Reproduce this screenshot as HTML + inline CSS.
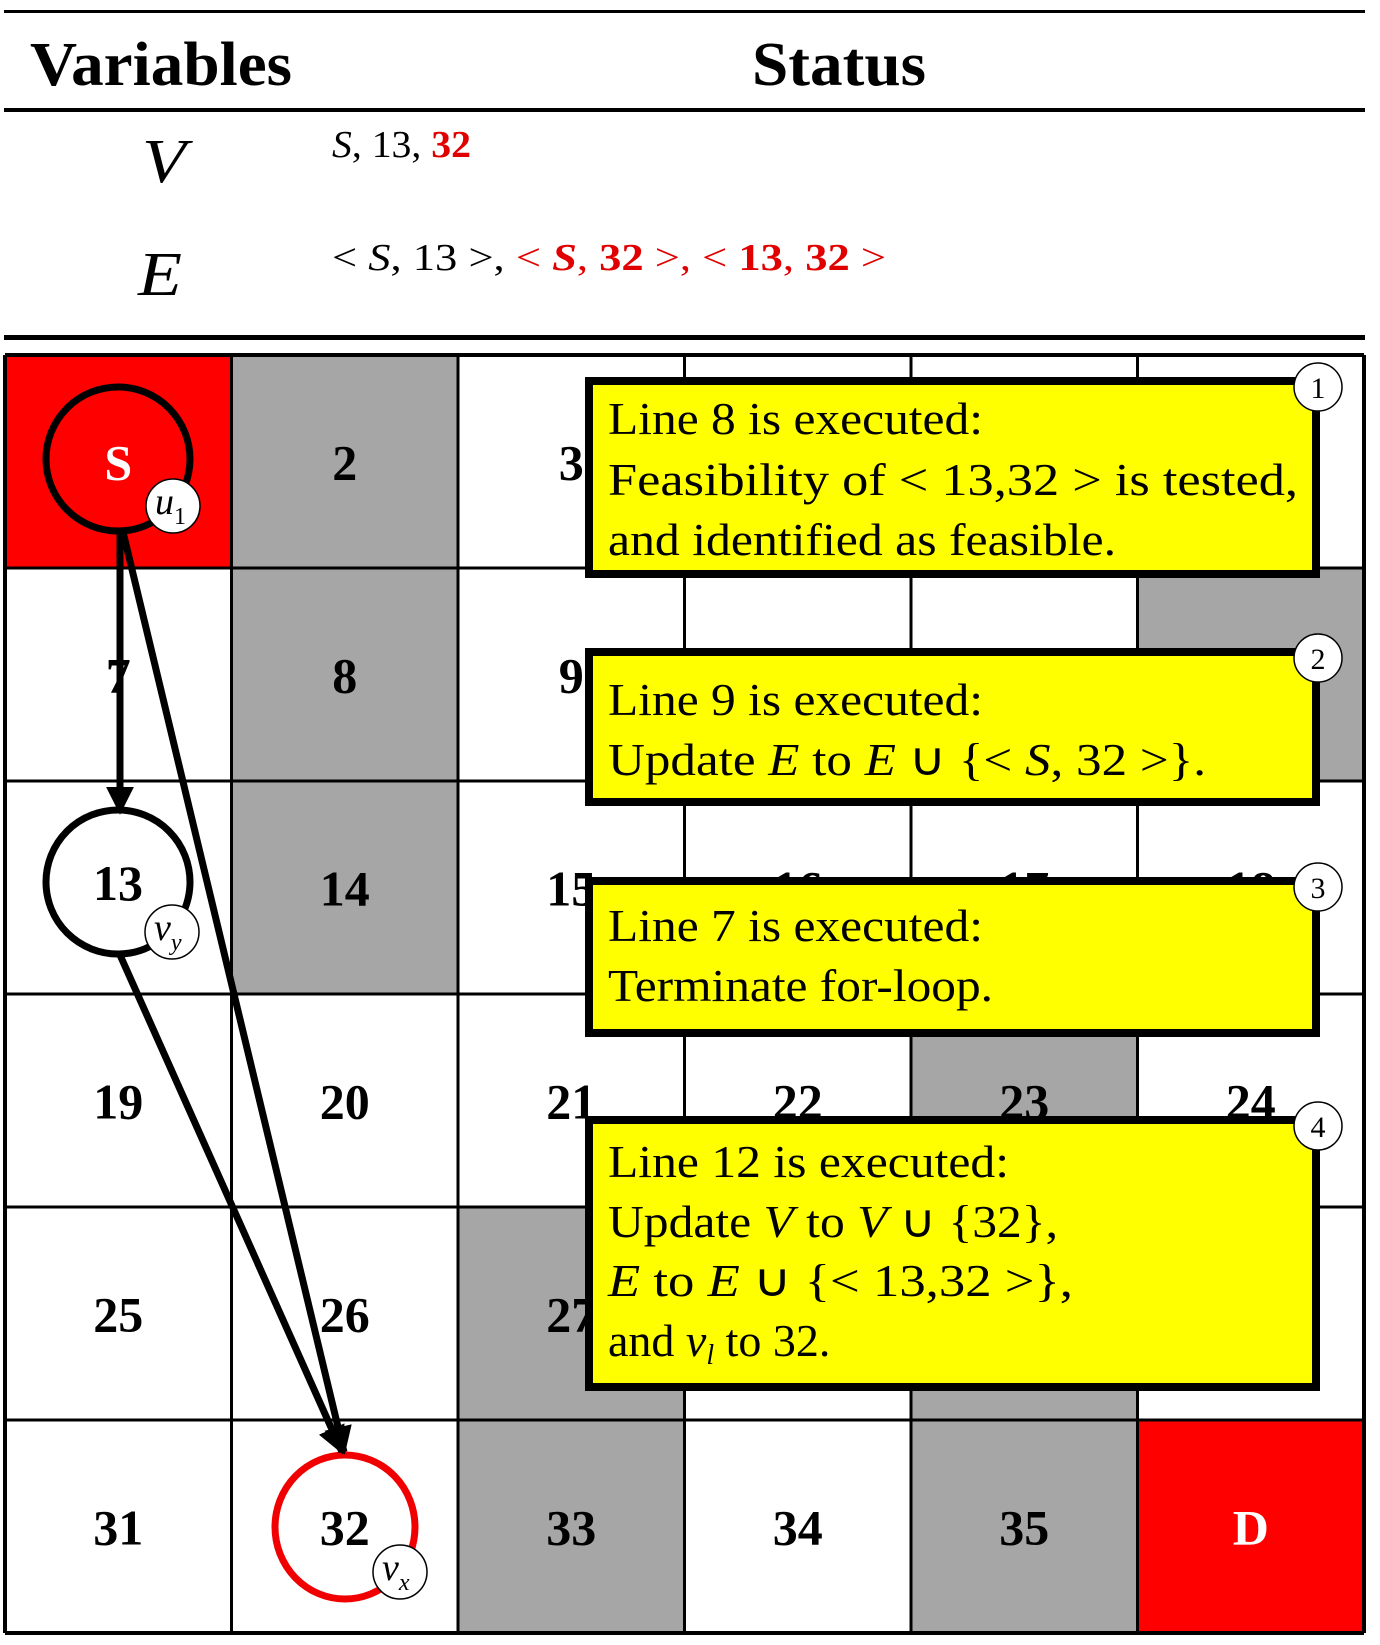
<!DOCTYPE html>
<html><head><meta charset="utf-8"><style>
html,body{margin:0;padding:0;background:#fff;}
svg{display:block;}
text{font-family:"Liberation Serif",serif;}
</style></head><body>
<svg id="fig" width="1380" height="1645" viewBox="0 0 1380 1645" xmlns="http://www.w3.org/2000/svg">
<defs>
<marker id="ah" viewBox="0 0 10 10" refX="9" refY="5" markerWidth="4" markerHeight="4" orient="auto" markerUnits="strokeWidth"><path d="M0,0 L10,5 L0,10 z" fill="#000"/></marker>
</defs>
<g>
<rect x="4" y="10" width="1361" height="3" fill="#000"/>
<text x="30" y="85" font-size="62" font-weight="bold" textLength="262" lengthAdjust="spacingAndGlyphs">Variables</text>
<text x="752" y="85" font-size="62" font-weight="bold" textLength="174" lengthAdjust="spacingAndGlyphs">Status</text>
<rect x="4" y="108" width="1361" height="4" fill="#000"/>
<text x="142" y="182" font-size="62" font-style="italic" textLength="44" lengthAdjust="spacingAndGlyphs">V</text>
<text x="138" y="295" font-size="62" font-style="italic" textLength="44" lengthAdjust="spacingAndGlyphs">E</text>
<text x="332" y="157" font-size="38" textLength="139" lengthAdjust="spacingAndGlyphs"><tspan font-style="italic">S</tspan>, 13, <tspan fill="#e00000" font-weight="bold">32</tspan></text>
<text x="332" y="270" font-size="38" textLength="554" lengthAdjust="spacingAndGlyphs">&lt; <tspan font-style="italic">S</tspan>, 13 &gt;,<tspan fill="#e00000"> &lt; <tspan font-style="italic" font-weight="bold">S</tspan>, <tspan font-weight="bold">32</tspan> &gt;, &lt; <tspan font-weight="bold">13</tspan>, <tspan font-weight="bold">32</tspan> &gt;</tspan></text>
<rect x="4" y="335" width="1361" height="5" fill="#000"/>
</g>
<g id="grid"></g>
<g id="graph"></g>
<g id="boxes">
<rect x="589" y="381" width="727" height="193" fill="#ffff00" stroke="#000" stroke-width="8"/>
<text x="608" y="434" font-size="46" textLength="375" lengthAdjust="spacingAndGlyphs">Line 8 is executed:</text>
<text x="608" y="495" font-size="46" textLength="690" lengthAdjust="spacingAndGlyphs">Feasibility of &lt; 13,32 &gt; is tested,</text>
<text x="608" y="555" font-size="46" textLength="508" lengthAdjust="spacingAndGlyphs">and identified as feasible.</text>

<rect x="589" y="652" width="727" height="150" fill="#ffff00" stroke="#000" stroke-width="8"/>
<text x="608" y="715" font-size="46" textLength="375" lengthAdjust="spacingAndGlyphs">Line 9 is executed:</text>
<text x="608" y="775" font-size="46" textLength="598" lengthAdjust="spacingAndGlyphs">Update <tspan font-style="italic">E</tspan> to <tspan font-style="italic">E</tspan> ∪ {&lt; <tspan font-style="italic">S</tspan>, 32 &gt;}.</text>

<rect x="589" y="881" width="727" height="152" fill="#ffff00" stroke="#000" stroke-width="8"/>
<text x="608" y="941" font-size="46" textLength="375" lengthAdjust="spacingAndGlyphs">Line 7 is executed:</text>
<text x="608" y="1001" font-size="46" textLength="385" lengthAdjust="spacingAndGlyphs">Terminate for-loop.</text>

<rect x="589" y="1120" width="727" height="267" fill="#ffff00" stroke="#000" stroke-width="8"/>
<text x="608" y="1177" font-size="46" textLength="401" lengthAdjust="spacingAndGlyphs">Line 12 is executed:</text>
<text x="608" y="1237" font-size="46" textLength="450" lengthAdjust="spacingAndGlyphs">Update <tspan font-style="italic">V</tspan> to <tspan font-style="italic">V</tspan> ∪ {32},</text>
<text x="608" y="1296" font-size="46" textLength="465" lengthAdjust="spacingAndGlyphs"><tspan font-style="italic">E</tspan> to <tspan font-style="italic">E</tspan> ∪ {&lt; 13,32 &gt;},</text>
<text x="608" y="1356" font-size="46">and <tspan font-style="italic">v</tspan><tspan font-style="italic" font-size="28" dy="8">l</tspan><tspan dy="-8"> to 32.</tspan></text>
</g>
<g id="badges"></g>
<script>
const cellLabels = ["S","2","3","4","5","6","7","8","9","10","11","12","13","14","15","16","17","18","19","20","21","22","23","24","25","26","27","28","29","30","31","32","33","34","35","D"];
const cellKinds = ["r","g","w","w","w","w","w","g","w","w","w","g","w","g","w","w","w","w","w","w","w","w","g","w","w","w","g","w","g","w","w","w","g","w","g","r"];
const badgeY = [387, 658, 887, 1126];
const NS="http://www.w3.org/2000/svg";
const gx0=5,gy0=355,cw=226.5,rh=213;
function colX(c){return gx0+c*cw;}
function rowY(r){return gy0+r*rh;}
function mk(tag,attrs,parent){const e=document.createElementNS(NS,tag);for(const k in attrs)e.setAttribute(k,attrs[k]);parent.appendChild(e);return e;}
const grid=document.getElementById('grid');
const fills={r:"#ff0000",g:"#a6a6a6",w:"#ffffff"};
cellLabels.forEach((lab,i)=>{
  const c=i%6,r=Math.floor(i/6);
  const rc=mk('rect',{x:colX(c),y:rowY(r),width:cw,height:rh,fill:fills[cellKinds[i]]},grid);
  
  
  const t=mk('text',{x:colX(c)+cw/2,y:rowY(r)+rh/2+18,'font-size':50,'font-weight':'bold','text-anchor':'middle',fill:cellKinds[i]==='r'?'#fff':'#000'},grid);
  t.textContent=lab;
  
  
});
for(let c=0;c<=6;c++){const l=mk('line',{x1:colX(c),y1:gy0,x2:colX(c),y2:rowY(6),stroke:'#000','stroke-width':(c===0||c===6)?4:3},grid);

}
for(let r=0;r<=6;r++){const l=mk('line',{x1:gx0,y1:rowY(r),x2:colX(6),y2:rowY(r),stroke:'#000','stroke-width':(r===0||r===6)?4:3},grid);

}

const g=document.getElementById('graph');
function arrow(x1,y1,x2,y2,name){const l=mk('line',{x1,y1,x2,y2,stroke:'#000','stroke-width':7,'marker-end':'url(#ah)'},g);

}
function node(cx,cy,rx,ry,stroke,fill,name){const e=mk('ellipse',{cx,cy,rx,ry,stroke,fill,'stroke-width':7},g);

}
function tag(cx,cy,main,sub,name){const c=mk('circle',{cx,cy,r:27,fill:'#fff',stroke:'#000','stroke-width':1.5},g);


const t=mk('text',{x:cx-18,y:cy+8,'font-size':38,'font-style':'italic'},g);
t.textContent=main;
const s=mk('tspan',{'font-size':24,'font-style':sub==='1'?'normal':'italic',dy:10},t);s.textContent=sub;

}
node(118,459,72,72,'#000','none','node-s');
node(118,882,72,72,'#000','#fff','node-13');
const t13=mk('text',{x:118,y:900,'font-size':50,'font-weight':'bold','text-anchor':'middle'},g);
t13.textContent='13';


node(345,1527,70,72,'#f00000','none','node-32');
arrow(120,532,120,812,'edge-s-13');
arrow(123,532,344,1452,'edge-s-32');
arrow(120,955,342,1452,'edge-13-32');
tag(173,506,'u','1','tag-u1');
tag(172,932,'v','y','tag-vy');
tag(400,1572,'v','x','tag-vx');

const B=document.getElementById('badges');
badgeY.forEach((y,i)=>{
  const c=mk('circle',{cx:1318,cy:y,r:24,fill:'#fff',stroke:'#000','stroke-width':1.5},B);
  
  
  const n=mk('text',{x:1318,y:y+11,'font-size':30,'text-anchor':'middle'},B);
  n.textContent=String(i+1);
  
  
});
</script>
</svg>
</body></html>
